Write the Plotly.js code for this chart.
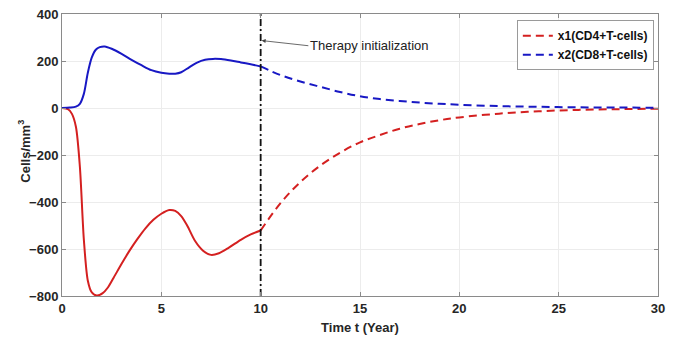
<!DOCTYPE html>
<html>
<head>
<meta charset="utf-8">
<script src="https://cdn.plot.ly/plotly-3.0.1.min.js"></script>
<style>html,body{margin:0;padding:0;background:#fff;}#chart{width:678px;height:337px;}</style>
</head>
<body>
<div id="chart"></div>
<script>
// Before therapy (solid)
const tPreB = [0, 0.4, 0.7, 0.9, 1.1, 1.3, 1.5, 1.7, 1.9, 2.15, 2.5, 3.0, 3.5, 4.0, 4.5, 5.0, 5.4, 5.7, 6.0, 6.4, 6.8, 7.2, 7.6, 8.0, 8.5, 9.0, 9.5, 10];
const x2Pre = [0, 2, 6, 18, 60, 150, 215, 248, 259, 262, 252, 230, 205, 182, 161, 150, 146, 146, 152, 173, 193, 205, 209, 208, 202, 194, 186, 177];
const tPreR = [0, 0.3, 0.5, 0.7, 0.9, 1.1, 1.3, 1.5, 1.75, 2.05, 2.3, 2.6, 3.0, 3.4, 3.8, 4.2, 4.6, 5.0, 5.4, 5.7, 6.0, 6.3, 6.7, 7.1, 7.5, 7.9, 8.4, 9.0, 9.5, 10];
const x1Pre = [0, -5, -25, -80, -250, -560, -735, -785, -798, -788, -765, -722, -663, -607, -557, -512, -476, -450, -434, -438, -460, -500, -566, -607, -625, -618, -594, -561, -538, -521];
// After therapy (dashed)
const tPost = [10, 11, 12, 13, 14, 15, 16, 17, 18, 19, 20, 22, 24, 26, 28, 30];
const x1Post = [-521, -405, -315, -245, -190, -146, -115, -88, -68, -52, -40, -24, -14, -8, -5, -3];
const x2Post = [177, 140, 113, 90, 68, 50, 38, 30, 23, 18, 14, 8, 5, 3, 2, 1];
// Therapy marker
const tTherapy = 10;
const yLimits = [-800, 400];
const seriesNames = ['x1(CD4+T-cells)', 'x2(CD8+T-cells)'];
const annText = 'Therapy initialization';
const yTitle = 'Cells/mm<sup>3</sup>';

const red = '#d42020', blue = '#1818c4';
const FONT = 'Liberation Sans, Arial, sans-serif';

const traces = [
  {x: tPreR, y: x1Pre, mode: 'lines', line: {color: red, width: 2, shape: 'spline', smoothing: 0.8}, showlegend: false, legendgroup: 'a'},
  {x: tPreB, y: x2Pre, mode: 'lines', line: {color: blue, width: 2, shape: 'spline', smoothing: 0.8}, showlegend: false, legendgroup: 'b'},
  {x: tPost, y: x1Post, mode: 'lines', name: seriesNames[0], line: {color: red, width: 2, dash: '8px,5px', shape: 'spline'}, legendgroup: 'a'},
  {x: tPost, y: x2Post, mode: 'lines', name: seriesNames[1], line: {color: blue, width: 2, dash: '8px,5px', shape: 'spline'}, legendgroup: 'b'},
  {x: [tTherapy, tTherapy], y: yLimits, mode: 'lines', line: {color: '#111', width: 1.8, dash: '7px,3px,2px,3px'}, showlegend: false}
];

const axisCommon = {
  showline: true, linecolor: '#8a8a8a', linewidth: 1, mirror: 'ticks',
  ticks: 'inside', ticklen: 4, tickcolor: '#8a8a8a',
  showgrid: true, gridcolor: '#ececec', gridwidth: 1, zeroline: false,
  tickfont: {family: FONT, size: 13, color: '#262626', weight: 'bold'}
};

const layout = {
  width: 678, height: 337,
  margin: {l: 62, r: 20, t: 14, b: 41},
  paper_bgcolor: '#fff', plot_bgcolor: '#fff',
  font: {family: FONT},
  xaxis: Object.assign({}, axisCommon, {
    range: [0, 30], dtick: 5, tick0: 0,
    title: {text: 'Time t (Year)', font: {family: FONT, size: 13, color: '#262626', weight: 'bold'}, standoff: 8}
  }),
  yaxis: Object.assign({}, axisCommon, {
    range: yLimits, dtick: 200, tick0: 0
  }),
  legend: {
    x: 0.993, y: 0.978, xanchor: 'right', yanchor: 'top',
    bgcolor: '#fff', bordercolor: '#9a9a9a', borderwidth: 1,
    font: {family: FONT, size: 12, color: '#111', weight: 'bold'},
    itemwidth: 30, tracegroupgap: 0
  },
  annotations: [{
    x: 10.05, y: 287, xref: 'x', yref: 'y',
    ax: 12.4, ay: 265, axref: 'x', ayref: 'y',
    text: annText, showarrow: true, arrowhead: 2, arrowsize: 1, arrowwidth: 0.8,
    arrowcolor: '#444', standoff: 0,
    xanchor: 'left', yanchor: 'middle',
    font: {family: FONT, size: 13, color: '#222'}
  }, {
    x: -0.064, y: 0.515, xref: 'paper', yref: 'paper',
    text: yTitle, showarrow: false, textangle: -90,
    xanchor: 'center', yanchor: 'middle',
    font: {family: FONT, size: 13, color: '#262626', weight: 'bold'}
  }],
  showlegend: true
};

Plotly.newPlot('chart', traces, layout, {displayModeBar: false, staticPlot: true});
</script>
</body>
</html>
